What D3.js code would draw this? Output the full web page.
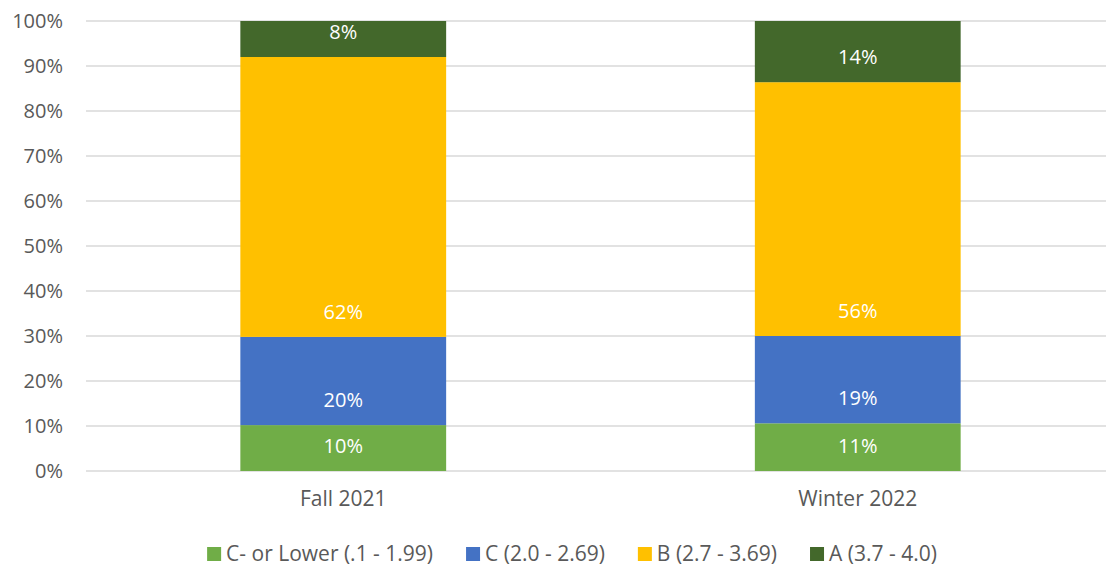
<!DOCTYPE html>
<html>
<head>
<meta charset="utf-8">
<script src="https://cdn.jsdelivr.net/npm/d3@7"></script>
<style>
  body { margin: 0; background: #fff; }
  text { font-family: "Open Sans", Lato, sans-serif; }
</style>
</head>
<body>
<svg class="canvas" width="1106" height="570"></svg>
<script>
const terms = ["Fall 2021", "Winter 2022"];
const grades = ["C- or Lower (.1 - 1.99)", "C (2.0 - 2.69)", "B (2.7 - 3.69)", "A (3.7 - 4.0)"];
const colors = ["#70AD47", "#4472C4", "#FFC000", "#43682B"];
const cLower = [10.2, 10.6];
const cGrade = [19.6, 19.4];
const bGrade = [62.2, 56.4];
const aGrade = [8.0, 13.6];
const yTicks = [0, 10, 20, 30, 40, 50, 60, 70, 80, 90, 100];

const svg = d3.select(".canvas");
const margin = { top: 21, left: 86 };
const graphWidth = 1029;
const graphHeight = 450;

const graph = svg.append("g")
  .attr("transform", `translate(${margin.left}, ${margin.top})`);

const y = d3.scaleLinear().domain([0, 100]).range([graphHeight, 0]);
const x = d3.scaleBand()
  .domain(terms)
  .range([0, graphWidth])
  .paddingInner(0.6)
  .paddingOuter(0.3);

// gridlines
graph.append("g")
  .selectAll("line")
  .data(yTicks)
  .enter()
  .append("line")
  .attr("x1", 0)
  .attr("x2", graphWidth)
  .attr("y1", (d) => y(d))
  .attr("y2", (d) => y(d))
  .attr("stroke", "#D9D9D9")
  .attr("stroke-width", 1.5);

const yAxis = d3.axisLeft(y).tickValues(yTicks).tickFormat((d) => d + "%").tickSize(0).tickPadding(23);
const yAxisGroup = graph.append("g").call(yAxis);
yAxisGroup.select(".domain").remove();
yAxisGroup.selectAll("text")
  .attr("fill", "#595959")
  .style("font-size", "20px");

// stack data
const rows = terms.map((t, i) => ({
  term: t,
  g0: cLower[i],
  g1: cGrade[i],
  g2: bGrade[i],
  g3: aGrade[i],
}));
const stack = d3.stack().keys(["g0", "g1", "g2", "g3"]);
const series = stack(rows);

const layers = graph.selectAll("g.layer")
  .data(series)
  .enter()
  .append("g")
  .attr("class", "layer")
  .attr("fill", (d, i) => colors[i]);

layers.selectAll("rect")
  .data((d) => d)
  .enter()
  .append("rect")
  .attr("x", (d) => x(d.data.term))
  .attr("width", x.bandwidth())
  .attr("y", (d) => y(d[1]))
  .attr("height", (d) => y(d[0]) - y(d[1]));

layers.selectAll("text")
  .data((d) => d)
  .enter()
  .append("text")
  .attr("x", (d) => x(d.data.term) + x.bandwidth() / 2)
  .attr("y", (d) => y(d[0]) - 25)
  .attr("dy", "0.35em")
  .attr("text-anchor", "middle")
  .attr("fill", "#fff")
  .style("font-size", "20px")
  .text((d) => Math.round(d[1] - d[0]) + "%");

// x axis labels
const xAxis = d3.axisBottom(x).tickSize(0).tickPadding(20);
const xAxisGroup = graph.append("g")
  .attr("transform", `translate(0,${graphHeight})`)
  .call(xAxis);
xAxisGroup.select(".domain").remove();
xAxisGroup.selectAll("text")
  .attr("fill", "#595959")
  .style("font-size", "21px");

// legend
const legend = svg.append("g").attr("transform", "translate(0,554)");
const items = legend.selectAll("g")
  .data(grades)
  .enter()
  .append("g");
items.append("rect")
  .attr("y", -7)
  .attr("width", 14)
  .attr("height", 14)
  .attr("fill", (d, i) => colors[i]);
items.append("text")
  .attr("x", 19)
  .attr("dy", "0.35em")
  .attr("fill", "#595959")
  .style("font-size", "21px")
  .text((d) => d);

let widths = [];
items.each(function () {
  const t = d3.select(this).select("text").node();
  widths.push(19 + t.getComputedTextLength());
});
const gap = 33;
const total = d3.sum(widths) + gap * (widths.length - 1);
let pos = 572 - total / 2;
items.attr("transform", (d, i) => {
  const p = pos;
  pos += widths[i] + gap;
  return `translate(${p},0)`;
});
</script>
</body>
</html>
